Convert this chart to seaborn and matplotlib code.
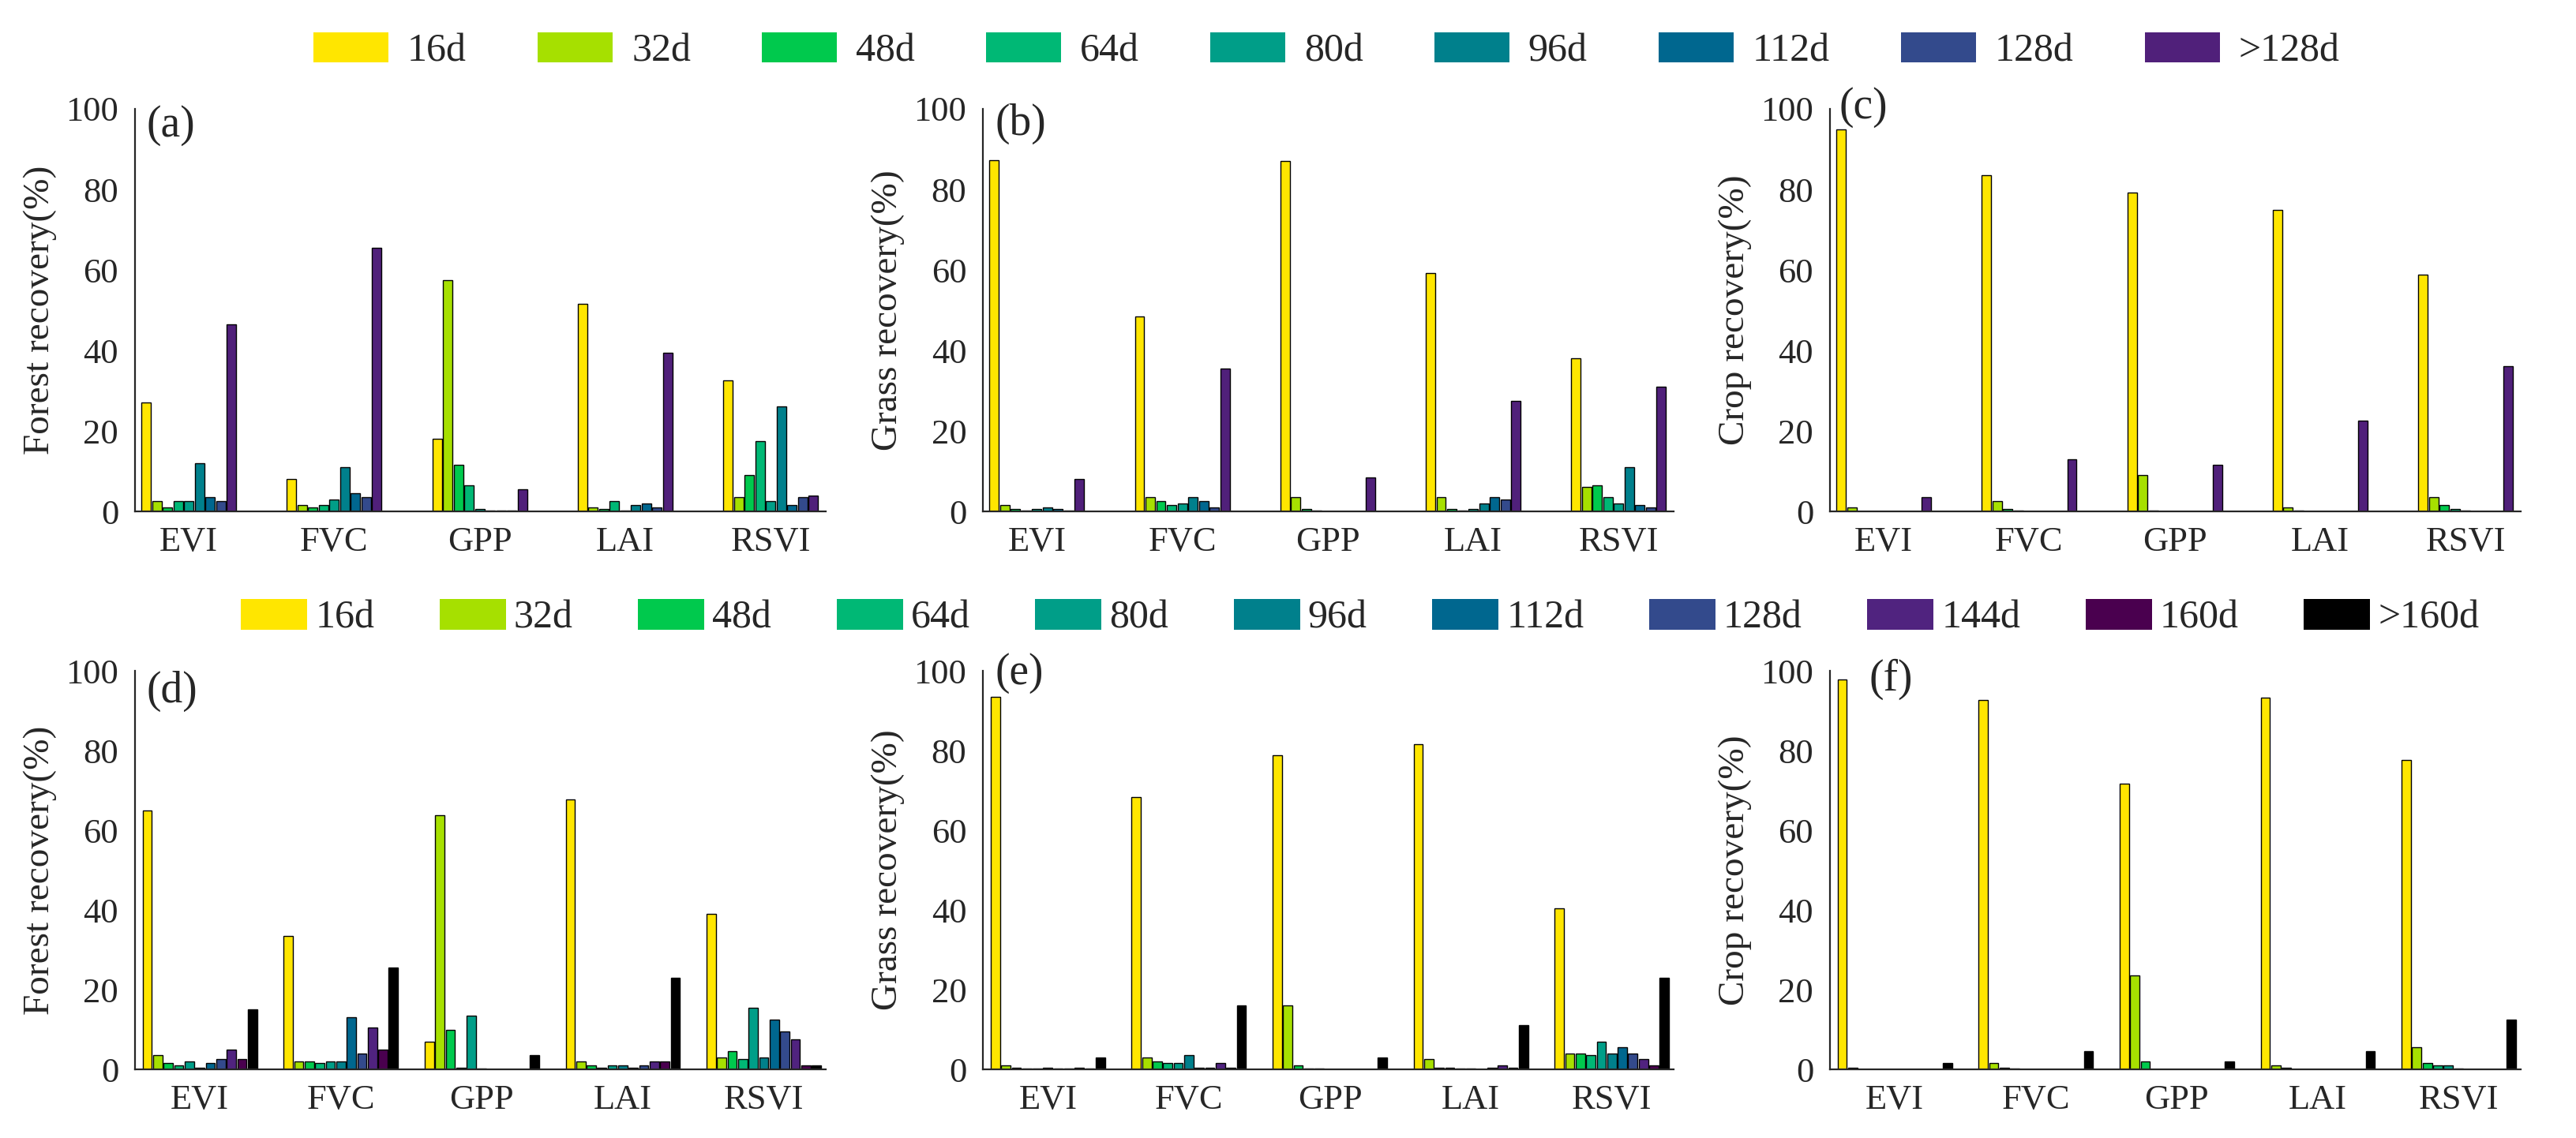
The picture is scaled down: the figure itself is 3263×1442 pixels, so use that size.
import matplotlib
matplotlib.use('Agg')
import matplotlib.pyplot as plt
from matplotlib.patches import Patch
import seaborn as sns
import pandas as pd

indices = ['EVI', 'FVC', 'GPP', 'LAI', 'RSVI']

periods_top = ['16d', '32d', '48d', '64d', '80d', '96d', '112d', '128d', '>128d']
periods_bottom = ['16d', '32d', '48d', '64d', '80d', '96d', '112d', '128d', '144d', '160d', '>160d']

colors_top = ['#FFE600', '#A6E000', '#00C94D', '#00B875', '#009E88', '#00808C',
              '#00678F', '#334A8C', '#50207A']
colors_bottom = ['#FFE600', '#A6E000', '#00C94D', '#00B875', '#009E88', '#00808C',
                 '#00678F', '#334A8C', '#50237F', '#4A004F', '#000000']

# rows follow `indices`, columns follow the period lists
forest_a = [
    [27, 2.5, 1, 2.5, 2.5, 12, 3.5, 2.5, 46.5],
    [8, 1.5, 1, 1.5, 3, 11, 4.5, 3.5, 65.5],
    [18, 57.5, 11.5, 6.5, 0.5, 0.3, 0.2, 0.2, 5.5],
    [51.5, 1, 0.5, 2.5, 0.3, 1.5, 2, 1, 39.5],
    [32.5, 3.5, 9, 17.5, 2.5, 26, 1.5, 3.5, 4],
]
grass_b = [
    [87.2, 1.5, 0.5, 0.3, 0.5, 1, 0.5, 0.3, 8],
    [48.5, 3.5, 2.5, 1.5, 2, 3.5, 2.5, 1, 35.5],
    [87, 3.5, 0.5, 0.2, 0.1, 0.1, 0.1, 0.1, 8.5],
    [59.3, 3.5, 0.5, 0.3, 0.5, 2, 3.5, 3, 27.5],
    [38, 6, 6.5, 3.5, 2, 11, 1.5, 1, 31],
]
crop_c = [
    [94.9, 1, 0.1, 0, 0, 0, 0, 0, 3.5],
    [83.5, 2.5, 0.5, 0.3, 0, 0, 0, 0, 13],
    [79.3, 9, 0.2, 0, 0, 0, 0, 0, 11.5],
    [74.9, 1, 0.2, 0, 0, 0, 0, 0, 22.5],
    [58.8, 3.5, 1.5, 0.5, 0.2, 0.1, 0, 0, 36],
]
forest_d = [
    [64.9, 3.5, 1.5, 1, 2, 0.5, 1.5, 2.5, 5, 2.5, 15],
    [33.5, 2, 2, 1.5, 2, 2, 13, 4, 10.5, 5, 25.5],
    [7, 63.8, 10, 0.5, 13.5, 0.3, 0.1, 0.1, 0.1, 0.1, 3.5],
    [67.7, 2, 1, 0.5, 1, 1, 0.5, 1, 2, 2, 23],
    [39, 3, 4.5, 2.5, 15.5, 3, 12.5, 9.5, 7.5, 1, 1],
]
grass_e = [
    [93.5, 1, 0.5, 0.3, 0.3, 0.5, 0.2, 0.2, 0.5, 0.3, 3],
    [68.3, 3, 2, 1.5, 1.5, 3.5, 0.5, 0.5, 1.5, 0.5, 16],
    [78.8, 16, 1, 0.3, 0.2, 0.1, 0.1, 0.1, 0.1, 0.1, 3],
    [81.6, 2.5, 0.5, 0.5, 0.3, 0.2, 0.1, 0.5, 1, 0.5, 11],
    [40.5, 4, 4, 3.5, 7, 4, 5.5, 4, 2.5, 1, 23],
]
crop_f = [
    [97.8, 0.5, 0.1, 0, 0, 0, 0, 0, 0, 0, 1.5],
    [92.7, 1.5, 0.5, 0.3, 0.1, 0, 0, 0, 0, 0, 4.5],
    [71.7, 23.5, 2, 0.1, 0, 0, 0, 0, 0, 0, 2],
    [93.3, 1, 0.5, 0.1, 0, 0, 0, 0, 0, 0, 4.5],
    [77.6, 5.5, 1.5, 1, 1, 0.3, 0.1, 0, 0, 0, 12.5],
]


def to_long(values, periods):
    rows = []
    for idx, row in zip(indices, values):
        for p, v in zip(periods, row):
            rows.append({'index': idx, 'period': p, 'value': v})
    return pd.DataFrame(rows)


def draw_panel(ax, values, periods, colors, width, label, ylabel, xlim, lab_xy):
    df = to_long(values, periods)
    sns.barplot(data=df, x='index', y='value', hue='period', order=indices,
                hue_order=periods, palette=dict(zip(periods, colors)),
                saturation=1, width=width, gap=0.12, edgecolor='black',
                linewidth=1.0, errorbar=None, legend=False, ax=ax)
    ax.set_ylim(0, 100)
    ax.set_xlim(*xlim)
    ax.set_yticks([0, 20, 40, 60, 80, 100])
    for s in ['top', 'right']:
        ax.spines[s].set_visible(False)
    for s in ['left', 'bottom']:
        ax.spines[s].set_linewidth(1.6)
    ax.set_xlabel('')
    ax.set_ylabel(ylabel, fontsize=34, labelpad=8)
    ax.tick_params(axis='y', labelsize=32, length=9, width=1.6, pad=6)
    ax.tick_params(axis='x', labelsize=32, length=0, pad=14)
    ax.text(lab_xy[0], lab_xy[1], label, transform=ax.transAxes,
            fontsize=40, va='top', ha='left')


sns.set_style('white')
plt.rcParams['font.family'] = ['Liberation Serif', 'DejaVu Serif']

fig = plt.figure(figsize=(32.63, 14.42), dpi=100)

lefts = [0.0524, 0.3816, 0.7104]
w = 0.2682
top_axes = [fig.add_axes([l, 0.5506, w, 0.3537]) for l in lefts]
bot_axes = [fig.add_axes([l, 0.0603, w, 0.3502]) for l in lefts]

xlim_top = (-0.37, 4.38)
xlim_bot = (-0.46, 4.44)

draw_panel(top_axes[0], forest_a, periods_top, colors_top, 0.66, '(a)', 'Forest recovery(%)', xlim_top, (0.017, 1.01))
draw_panel(top_axes[1], grass_b, periods_top, colors_top, 0.66, '(b)', 'Grass recovery(%)', xlim_top, (0.017, 1.015))
draw_panel(top_axes[2], crop_c, periods_top, colors_top, 0.66, '(c)', 'Crop recovery(%)', xlim_top, (0.013, 1.055))
draw_panel(bot_axes[0], forest_d, periods_bottom, colors_bottom, 0.82, '(d)', 'Forest recovery(%)', xlim_bot, (0.017, 1.0))
draw_panel(bot_axes[1], grass_e, periods_bottom, colors_bottom, 0.82, '(e)', 'Grass recovery(%)', xlim_bot, (0.017, 1.045))
draw_panel(bot_axes[2], crop_f, periods_bottom, colors_bottom, 0.82, '(f)', 'Crop recovery(%)', xlim_bot, (0.056, 1.03))

h_top = [Patch(facecolor=c, edgecolor='none', label=p) for p, c in zip(periods_top, colors_top)]
fig.legend(handles=h_top, loc='center', bbox_to_anchor=(0.515, 0.955), ncol=9,
           frameon=False, fontsize=36, handlelength=1.9, handleheight=0.8,
           handletextpad=0.48, columnspacing=1.8)

h_bot = [Patch(facecolor=c, edgecolor='none', label=p) for p, c in zip(periods_bottom, colors_bottom)]
fig.legend(handles=h_bot, loc='center', bbox_to_anchor=(0.528, 0.457), ncol=11,
           frameon=False, fontsize=36, handlelength=1.68, handleheight=0.8,
           handletextpad=0.2, columnspacing=1.65)

fig.savefig('out.png', dpi=100, facecolor='white')
